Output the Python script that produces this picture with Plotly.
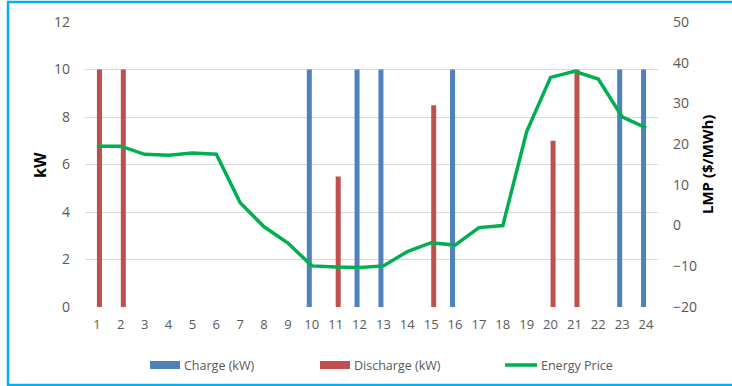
import plotly.graph_objects as go

# Hourly battery schedule and day-ahead price (None = no bar in that hour)
hours = list(range(1, 25))
charge_kw = [None, None, None, None, None, None, None, None, None, 10, None, 10,
             10, None, None, 10, None, None, None, None, None, None, 10, 10]
discharge_kw = [10, 10, None, None, None, None, None, None, None, None, 5.5, None,
                None, None, 8.5, None, None, None, None, 7, 10, None, None, None]
energy_price = [19.5, 19.5, 17.5, 17.3, 17.8, 17.5, 5.6, -0.3, -4.3, -9.9, -10.2, -10.3,
                -9.9, -6.4, -4.2, -4.8, -0.5, 0.0, 23.1, 36.4, 37.9, 36.0, 26.7, 24.0]
left_ticks = [0, 2, 4, 6, 8, 10, 12]
right_ticks = [-20, -10, 0, 10, 20, 30, 40, 50]

BLUE = "#4F81BD"
RED = "#C0504D"
GREEN = "#00B050"
TEXT = "#595959"
FONT = "Open Sans"

W, H = 732, 386
L, R, T, B = 85, 74, 22, 79
pw, ph = W - L - R, H - T - B


def px_x(x):
    return (x - L) / pw


def px_y(y):
    return (H - B - y) / ph


fig = go.Figure()
fig.add_trace(go.Bar(x=hours, y=charge_kw, name="Charge (kW)", marker_color=BLUE,
                     marker_line_width=0, showlegend=False, yaxis="y"))
fig.add_trace(go.Bar(x=hours, y=discharge_kw, name="Discharge (kW)", marker_color=RED,
                     marker_line_width=0, showlegend=False, yaxis="y"))
fig.add_trace(go.Scatter(x=hours, y=energy_price, name="Energy Price", mode="lines",
                         line=dict(color=GREEN, width=3.5), showlegend=False, yaxis="y2"))

shapes = [
    # outer chart frame
    dict(type="rect", xref="paper", yref="paper", x0=px_x(8), x1=px_x(745),
         y0=px_y(385), y1=px_y(2), line=dict(color="#00B0F0", width=2.5), layer="below"),
]
annotations = []

# legend drawn as swatches plus labels
legend_items = [
    ("Charge (kW)", "bar", BLUE, 150, 180),
    ("Discharge (kW)", "bar", RED, 320, 350),
    ("Energy Price", "line", GREEN, 505, 537),
]
ly = 365
for label, kind, color, x0, x1 in legend_items:
    if kind == "bar":
        shapes.append(dict(type="rect", xref="paper", yref="paper", x0=px_x(x0), x1=px_x(x1),
                           y0=px_y(ly + 4), y1=px_y(ly - 4), fillcolor=color, line=dict(width=0)))
    else:
        shapes.append(dict(type="line", xref="paper", yref="paper", x0=px_x(x0), x1=px_x(x1),
                           y0=px_y(ly), y1=px_y(ly), line=dict(color=color, width=3.5)))
    annotations.append(dict(text=label, xref="paper", yref="paper", x=px_x(x1 + 2), y=px_y(ly),
                            xanchor="left", yanchor="middle", showarrow=False,
                            font=dict(family=FONT, size=12.5, color=TEXT)))

# axis titles
annotations.append(dict(text="<b>kW</b>", xref="paper", yref="paper", x=px_x(40), y=px_y(165),
                        textangle=-90, showarrow=False, xanchor="center", yanchor="middle",
                        font=dict(family=FONT, size=16, color="#000000")))
annotations.append(dict(text="<b>LMP ($/MWh)</b>", xref="paper", yref="paper", x=px_x(707),
                        y=px_y(165), textangle=-90, showarrow=False, xanchor="center",
                        yanchor="middle", font=dict(family=FONT, size=15, color="#000000")))

fig.update_layout(
    width=W, height=H,
    margin=dict(l=L, r=R, t=T, b=B),
    paper_bgcolor="white", plot_bgcolor="white",
    barmode="group", bargap=0.58, bargroupgap=0,
    font=dict(family=FONT, size=13, color=TEXT),
    xaxis=dict(range=[0.5, 24.5], tickvals=hours, ticktext=[str(h) for h in hours],
               showgrid=False, zeroline=False, showline=False, ticks="",
               tickfont=dict(size=13, color=TEXT), ticklabelstandoff=8),
    yaxis=dict(range=[0, 12], tickvals=left_ticks, showgrid=True, gridcolor="#D9D9D9",
               gridwidth=1, zeroline=False, showline=False, ticks="",
               tickfont=dict(size=14, color=TEXT), ticklabelstandoff=14),
    yaxis2=dict(range=[-20, 50], tickvals=right_ticks, overlaying="y", side="right",
                showgrid=False, zeroline=False, showline=False, ticks="",
                tickfont=dict(size=14, color=TEXT), ticklabelstandoff=14),
    shapes=shapes,
    annotations=annotations,
)

fig.write_html("out.html")
